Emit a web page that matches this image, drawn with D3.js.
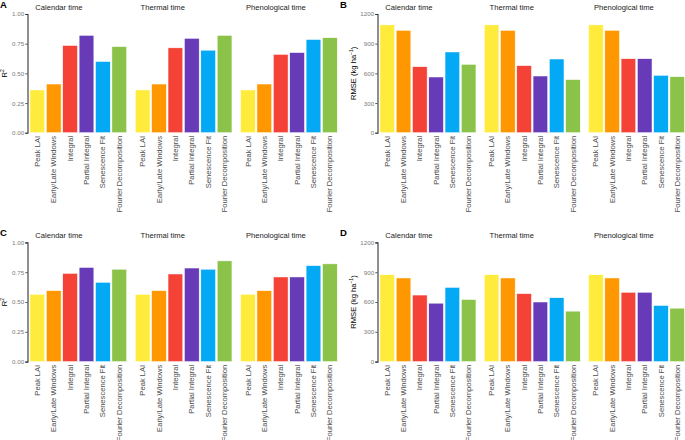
<!DOCTYPE html>
<html>
<head>
<meta charset="utf-8">
<script src="https://cdn.jsdelivr.net/npm/d3@7"></script>
<style>
  body { margin: 0; background: #fff; }
  svg { display: block; font-family: "Liberation Sans", Arial, sans-serif; }
</style>
</head>
<body>
<svg id="chart" width="685" height="440"></svg>
<script>
// ---------------- data ----------------
const facets = ["Calendar time", "Thermal time", "Phenological time"];
const methods = ["Peak LAI", "Early/Late Windows", "Integral", "Partial Integral", "Senescence Fit", "Fourier Decomposition"];
const methodColors = ["#FFEB3B", "#FF9800", "#F44336", "#673AB7", "#03A9F4", "#8BC34A"];

// Panel A: R2
const r2A_calendar      = [0.36, 0.41, 0.735, 0.82, 0.60, 0.725];
const r2A_thermal       = [0.36, 0.41, 0.715, 0.795, 0.695, 0.82];
const r2A_phenological  = [0.36, 0.41, 0.66, 0.675, 0.785, 0.80];
// Panel B: RMSE (kg ha-1)
const rmseB_calendar     = [1090, 1035, 667, 563, 816, 691];
const rmseB_thermal      = [1090, 1035, 678, 573, 745, 537];
const rmseB_phenological = [1090, 1035, 748, 748, 580, 566];
// Panel C: R2
const r2C_calendar      = [0.565, 0.595, 0.74, 0.79, 0.665, 0.775];
const r2C_thermal       = [0.565, 0.595, 0.735, 0.785, 0.775, 0.845];
const r2C_phenological  = [0.565, 0.595, 0.71, 0.71, 0.805, 0.82];
// Panel D: RMSE (kg ha-1)
const rmseD_calendar     = [875, 842, 670, 588, 747, 625];
const rmseD_thermal      = [875, 842, 684, 600, 643, 508];
const rmseD_phenological = [875, 842, 698, 698, 565, 538];

const r2Ticks = [0, 0.25, 0.5, 0.75, 1.0];
const r2TickLabels = ["0.00", "0.25", "0.50", "0.75", "1.00"];
const rmseTicks = [0, 300, 600, 900, 1200];
const rmseTickLabels = ["0", "300", "600", "900", "1200"];

// ---------------- layout ----------------
const svg = d3.select("#chart");

const panels = [
  { tag: "A", kind: "r2",   series: [r2A_calendar, r2A_thermal, r2A_phenological],
    left: 27.5, step: 105.3, width: 101.6, yBottom: 132.7, yTop: 14.0, rowShift: 0, labelX: 0, ylabX: 7.3 },
  { tag: "B", kind: "rmse", series: [rmseB_calendar, rmseB_thermal, rmseB_phenological],
    left: 377.5, step: 104.3, width: 100.9, yBottom: 132.7, yTop: 14.0, rowShift: 0, labelX: 340, ylabX: 356.3 },
  { tag: "C", kind: "r2",   series: [r2C_calendar, r2C_thermal, r2C_phenological],
    left: 27.5, step: 105.3, width: 101.6, yBottom: 361.6, yTop: 242.4, rowShift: 228.2, labelX: 0, ylabX: 7.3 },
  { tag: "D", kind: "rmse", series: [rmseD_calendar, rmseD_thermal, rmseD_phenological],
    left: 377.5, step: 104.3, width: 100.9, yBottom: 361.6, yTop: 242.4, rowShift: 228.2, labelX: 340, ylabX: 356.3 }
];

panels.forEach(p => {
  const g = svg.append("g");
  const isR2 = p.kind === "r2";
  const y = d3.scaleLinear()
    .domain(isR2 ? [0, 1] : [0, 1200])
    .range([p.yBottom, p.yTop]);

  // panel tag
  g.append("text")
    .attr("x", p.labelX)
    .attr("y", 8 + p.rowShift)
    .attr("font-size", 9.5)
    .attr("font-weight", "bold")
    .attr("fill", "#000")
    .text(p.tag);

  // y axis
  const ticks = isR2 ? r2Ticks : rmseTicks;
  const tickLabels = isR2 ? r2TickLabels : rmseTickLabels;
  const yAxis = d3.axisLeft(y)
    .tickValues(ticks)
    .tickFormat((d, i) => tickLabels[i])
    .tickSize(2.2)
    .tickPadding(1.2);
  const ax = g.append("g")
    .attr("transform", `translate(${p.left},0)`)
    .call(yAxis);
  ax.select(".domain").attr("stroke", "#333").attr("stroke-width", 1.1);
  ax.selectAll(".tick line").attr("stroke", "#333").attr("stroke-width", 0.8);
  ax.selectAll(".tick text")
    .attr("font-size", 6.2)
    .attr("fill", "#7a7a7a")
    .attr("font-family", "Liberation Sans, Arial, sans-serif");

  // y axis title
  const yMid = (p.yBottom + p.yTop) / 2;
  const yt = g.append("text")
    .attr("transform", `translate(${p.ylabX},${yMid}) rotate(-90)`)
    .attr("text-anchor", "middle")
    .attr("font-size", 7.6)
    .attr("fill", "#000");
  if (isR2) {
    yt.append("tspan").text("R");
    yt.append("tspan").attr("dy", -3).attr("font-size", 5).text("2");
  } else {
    yt.append("tspan").text("RMSE (kg ha");
    yt.append("tspan").attr("dy", -3).attr("font-size", 5).text("\u22121");
    yt.append("tspan").attr("dy", 3).text(")");
  }

  // facets
  facets.forEach((f, fi) => {
    const x0 = p.left + fi * p.step;
    const x = d3.scaleBand()
      .domain(methods)
      .range([x0, x0 + p.width])
      .paddingInner(0.1)
      .paddingOuter(0.15);

    // strip title
    g.append("text")
      .attr("x", x0 + 7.8)
      .attr("y", 10 + p.rowShift)
      .attr("font-size", 7.6)
      .attr("fill", "#1a1a1a")
      .text(f);

    const vals = p.series[fi];
    g.selectAll(null)
      .data(methods)
      .enter()
      .append("rect")
      .attr("x", d => x(d))
      .attr("width", x.bandwidth())
      .attr("y", (d, i) => y(vals[i]))
      .attr("height", (d, i) => y(0) - y(vals[i]))
      .attr("fill", (d, i) => methodColors[i])
      .attr("stroke", "#fff")
      .attr("stroke-width", 0.5);

    // x tick labels (rotated)
    g.selectAll(null)
      .data(methods)
      .enter()
      .append("text")
      .attr("transform", d => `translate(${x(d) + x.bandwidth() / 2 + 2.6},${p.yBottom + 3.2}) rotate(-90)`)
      .attr("text-anchor", "end")
      .attr("font-size", 7.6)
      .attr("fill", "#4d4d4d")
      .text(d => d);
  });
});
</script>
</body>
</html>
